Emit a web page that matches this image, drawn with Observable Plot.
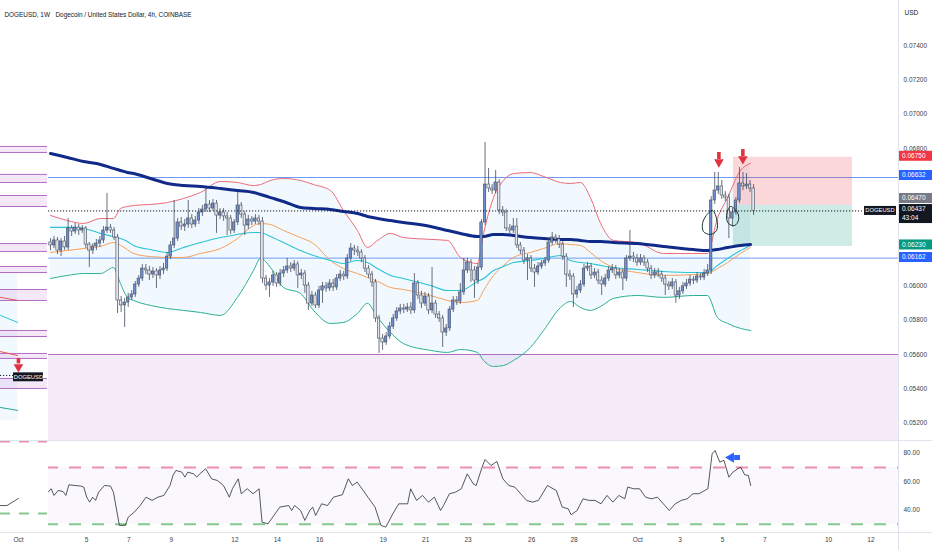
<!DOCTYPE html>
<html><head><meta charset="utf-8">
<script src="https://cdn.jsdelivr.net/npm/d3@7"></script>
<script src="https://cdn.jsdelivr.net/npm/@observablehq/plot@0.6"></script>
<style>
html,body{margin:0;padding:0;background:#fff;overflow:hidden}
#wrap{position:relative;width:932px;height:550px;background:#fff}
#wrap svg{display:block}
.sep{position:absolute;background:#e0e3eb}
</style></head><body><div id="wrap"></div>
<script>
// ================= DATA =================
// time axis in days (day 1..30 = first month, 31.. = "Oct" 1..)
const candleStartDay = 3.30;
const candleStepDays = 1 / 6;           // 4h candles
const firstOpen = 0.06253;
const closes = [
0.06236,0.06265,0.06206,0.06259,0.06224,0.06335,0.06317,0.06340,0.06323,0.06335,
0.06241,0.06206,0.06230,0.06247,0.06265,0.06323,0.06340,0.06323,0.06282,0.05915,
0.05886,0.05903,0.05932,0.05950,0.06008,0.06043,0.06101,0.06090,0.06066,0.06084,
0.06061,0.06090,0.06101,0.06171,0.06236,0.06276,0.06370,0.06346,0.06358,0.06393,
0.06358,0.06381,0.06428,0.06445,0.06474,0.06451,0.06480,0.06410,0.06428,0.06405,
0.06393,0.06323,0.06370,0.06469,0.06416,0.06352,0.06387,0.06375,0.06393,0.06375,
0.06043,0.06002,0.06020,0.06061,0.06014,0.06072,0.06090,0.06113,0.06101,0.06125,
0.06061,0.06072,0.06002,0.05897,0.05944,0.05886,0.05973,0.05997,0.05985,0.06014,
0.05991,0.06043,0.06066,0.06055,0.06160,0.06218,0.06206,0.06195,0.06160,0.06101,
0.06066,0.06020,0.05810,0.05693,0.05670,0.05705,0.05763,0.05810,0.05851,0.05868,
0.05862,0.05874,0.05857,0.06014,0.05944,0.05897,0.05938,0.05857,0.05897,0.05833,
0.05810,0.05728,0.05752,0.05862,0.05915,0.05909,0.05962,0.06090,0.06136,0.06090,
0.06031,0.06107,0.06370,0.06591,0.06568,0.06556,0.06603,0.06440,0.06428,0.06335,
0.06323,0.06346,0.06236,0.06206,0.06148,0.06160,0.06101,0.06078,0.06113,0.06131,
0.06148,0.06253,0.06282,0.06271,0.06241,0.06171,0.06066,0.06055,0.05950,0.05973,
0.06008,0.06101,0.06113,0.06061,0.06078,0.06031,0.06008,0.06043,0.06090,0.06101,
0.06061,0.06078,0.06043,0.06160,0.06171,0.06160,0.06136,0.06160,0.06136,0.06101,
0.06061,0.06078,0.06066,0.06043,0.06008,0.05997,0.06020,0.05944,0.05968,0.05997,
0.06014,0.06037,0.06031,0.06055,0.06049,0.06072,0.06090,0.06498,0.06556,0.06580,
0.06527,0.06515,0.06393,0.06428,0.06498,0.06597,0.06580,0.06591,0.06568,0.06437];
const highs = [
0.06276,0.06288,0.06282,0.06276,0.06288,0.06393,0.06352,0.06364,0.06358,0.06352,
0.06346,0.06253,0.06247,0.06271,0.06288,0.06346,0.06539,0.06358,0.06341,0.06300,
0.05938,0.05927,0.05956,0.05973,0.06026,0.06061,0.06125,0.06125,0.06113,0.06107,
0.06101,0.06113,0.06131,0.06195,0.06259,0.06498,0.06393,0.06399,0.06387,0.06498,
0.06416,0.06405,0.06451,0.06469,0.06568,0.06498,0.06504,0.06498,0.06451,0.06451,
0.06428,0.06411,0.06387,0.06545,0.06486,0.06434,0.06411,0.06405,0.06416,0.06411,
0.06399,0.06061,0.06043,0.06084,0.06078,0.06096,0.06113,0.06160,0.06136,0.06148,
0.06142,0.06096,0.06090,0.06020,0.05968,0.05962,0.05997,0.06020,0.06020,0.06037,
0.06037,0.06066,0.06090,0.06084,0.06183,0.06247,0.06236,0.06230,0.06212,0.06177,
0.06119,0.06084,0.06037,0.05828,0.05717,0.05728,0.05787,0.05833,0.05874,0.05892,
0.05892,0.05898,0.05903,0.06072,0.06031,0.05968,0.05962,0.05956,0.06107,0.05915,
0.05851,0.05828,0.05775,0.05880,0.05938,0.05938,0.06014,0.06160,0.06160,0.06154,
0.06113,0.06131,0.06387,0.06836,0.06685,0.06591,0.06673,0.06620,0.06463,0.06446,
0.06358,0.06393,0.06393,0.06253,0.06224,0.06183,0.06177,0.06125,0.06136,0.06148,
0.06166,0.06276,0.06311,0.06300,0.06294,0.06259,0.06189,0.06090,0.06072,0.05997,
0.06031,0.06125,0.06136,0.06131,0.06101,0.06096,0.06055,0.06066,0.06113,0.06125,
0.06119,0.06101,0.06096,0.06177,0.06323,0.06195,0.06183,0.06183,0.06177,0.06154,
0.06119,0.06101,0.06101,0.06084,0.06061,0.06026,0.06043,0.06037,0.05991,0.06020,
0.06037,0.06061,0.06055,0.06078,0.06072,0.06096,0.06125,0.06521,0.06661,0.06661,
0.06615,0.06550,0.06533,0.06451,0.06515,0.06690,0.06661,0.06655,0.06615,0.06591];
const lows = [
0.06206,0.06218,0.06183,0.06171,0.06206,0.06206,0.06288,0.06300,0.06294,0.06306,
0.06218,0.06107,0.06183,0.06206,0.06224,0.06247,0.06306,0.06306,0.06265,0.05839,
0.05845,0.05757,0.05874,0.05915,0.05933,0.05991,0.06026,0.06066,0.06031,0.06043,
0.05985,0.06037,0.06066,0.06084,0.06154,0.06218,0.06259,0.06323,0.06317,0.06335,
0.06335,0.06341,0.06358,0.06405,0.06428,0.06428,0.06434,0.06306,0.06387,0.06376,
0.06294,0.06300,0.06306,0.06352,0.06393,0.06294,0.06329,0.06352,0.06358,0.06352,
0.06014,0.05973,0.05933,0.05997,0.05991,0.05997,0.06049,0.06072,0.06078,0.06084,
0.05985,0.06037,0.05956,0.05857,0.05880,0.05868,0.05868,0.05898,0.05962,0.05968,
0.05968,0.05973,0.06026,0.06031,0.06037,0.06142,0.06177,0.06171,0.06136,0.06078,
0.06043,0.05991,0.05787,0.05606,0.05624,0.05653,0.05688,0.05746,0.05793,0.05833,
0.05839,0.05845,0.05833,0.05839,0.05921,0.05868,0.05880,0.05833,0.05839,0.05810,
0.05787,0.05641,0.05705,0.05734,0.05845,0.05886,0.05892,0.05944,0.06072,0.06020,
0.05927,0.06008,0.06090,0.06352,0.06545,0.06533,0.06539,0.06416,0.06405,0.06317,
0.06300,0.06306,0.06218,0.06183,0.06125,0.06031,0.06078,0.05991,0.06061,0.06096,
0.06113,0.06131,0.06236,0.06247,0.06218,0.06148,0.05991,0.06031,0.05874,0.05927,
0.05956,0.05991,0.06084,0.06037,0.06043,0.06008,0.05944,0.05991,0.06026,0.06072,
0.06037,0.06043,0.05973,0.06026,0.06142,0.06136,0.06113,0.06119,0.06113,0.06078,
0.06037,0.06043,0.06049,0.06020,0.05944,0.05973,0.05979,0.05898,0.05921,0.05950,
0.05979,0.05997,0.06008,0.06014,0.06031,0.06031,0.06055,0.06066,0.06475,0.06533,
0.06504,0.06492,0.06276,0.06341,0.06411,0.06480,0.06556,0.06562,0.06545,0.06411];

// indicator readings (Bollinger bands, orange MA, 200 MA) at sampled days
const bandDays = [3.30,4.10,4.86,5.66,6.27,6.60,6.93,7.22,8.02,8.82,9.58,10.38,11.32,12.12,12.88,13.21,13.68,14.29,15.09,15.71,16.51,17.12,17.78,18.25,18.73,19.34,19.95,21.23,22.03,22.64,23.44,23.73,24.20,24.67,25.14,25.94,26.56,27.36,27.83,28.30,28.77,29.25,29.86,30.99,32.22,33.63,34.29,34.76,35.24,35.85,36.32];
const bbUpper = [0.06411,0.06381,0.06364,0.06393,0.06393,0.06451,0.06463,0.06469,0.06475,0.06486,0.06510,0.06545,0.06609,0.06603,0.06585,0.06591,0.06615,0.06626,0.06615,0.06591,0.06556,0.06440,0.06323,0.06224,0.06265,0.06306,0.06282,0.06271,0.06265,0.06166,0.06131,0.06306,0.06515,0.06615,0.06655,0.06661,0.06638,0.06603,0.06597,0.06603,0.06515,0.06364,0.06265,0.06253,0.06189,0.06189,0.06189,0.06393,0.06515,0.06673,0.06714];
const bbLower = [0.06043,0.06061,0.06072,0.06072,0.06107,0.06014,0.05933,0.05915,0.05886,0.05868,0.05857,0.05845,0.05828,0.05933,0.06090,0.06160,0.06107,0.05991,0.05956,0.05857,0.05781,0.05787,0.05839,0.05898,0.05816,0.05728,0.05664,0.05624,0.05612,0.05629,0.05612,0.05565,0.05530,0.05536,0.05565,0.05641,0.05740,0.05874,0.05909,0.05874,0.05857,0.05880,0.05927,0.05944,0.05933,0.05944,0.05944,0.05816,0.05781,0.05752,0.05740];
const bbBasis = [0.06341,0.06341,0.06335,0.06306,0.06288,0.06276,0.06259,0.06236,0.06212,0.06195,0.06224,0.06253,0.06282,0.06300,0.06311,0.06311,0.06288,0.06253,0.06206,0.06177,0.06148,0.06131,0.06148,0.06136,0.06101,0.06061,0.06043,0.06002,0.05973,0.05973,0.06026,0.06043,0.06090,0.06113,0.06136,0.06148,0.06160,0.06177,0.06148,0.06136,0.06131,0.06119,0.06107,0.06096,0.06084,0.06078,0.06078,0.06119,0.06160,0.06206,0.06236];
const maOrange = [0.06195,0.06206,0.06218,0.06230,0.06253,0.06236,0.06212,0.06189,0.06171,0.06166,0.06166,0.06189,0.06218,0.06276,0.06352,0.06364,0.06358,0.06323,0.06282,0.06247,0.06148,0.06101,0.06072,0.06049,0.06026,0.05991,0.05979,0.05944,0.05915,0.05903,0.05915,0.05973,0.06061,0.06119,0.06166,0.06195,0.06218,0.06247,0.06241,0.06236,0.06195,0.06148,0.06107,0.06078,0.06061,0.06066,0.06072,0.06101,0.06136,0.06189,0.06224];
const ma200 = [0.06772,0.06749,0.06725,0.06708,0.06685,0.06673,0.06661,0.06655,0.06626,0.06597,0.06585,0.06580,0.06568,0.06556,0.06545,0.06533,0.06515,0.06492,0.06457,0.06451,0.06446,0.06434,0.06422,0.06405,0.06393,0.06381,0.06370,0.06346,0.06323,0.06306,0.06288,0.06288,0.06300,0.06300,0.06294,0.06282,0.06276,0.06271,0.06271,0.06265,0.06259,0.06259,0.06253,0.06247,0.06230,0.06212,0.06206,0.06212,0.06224,0.06236,0.06241];

// RSI readings
const rsiDays = [3.19,3.33,3.47,3.66,3.89,4.03,4.17,4.45,4.73,4.87,5.01,5.15,5.29,5.43,5.57,5.85,6.13,6.27,6.55,6.83,6.97,7.25,7.53,7.81,8.09,8.37,8.65,8.94,9.08,9.22,9.50,9.64,9.78,10.06,10.20,10.34,10.62,10.90,11.18,11.46,11.74,11.88,12.16,12.30,12.58,12.86,13.14,13.28,13.56,13.84,14.12,14.54,14.68,14.82,15.10,15.30,15.53,15.67,15.81,16.09,16.37,16.65,17.07,17.35,17.54,17.77,18.05,18.33,18.61,18.89,19.12,19.45,19.73,20.15,20.29,20.57,20.85,21.13,21.41,21.70,21.84,22.12,22.40,22.68,22.96,23.24,23.38,23.66,23.80,24.08,24.36,24.64,24.92,25.20,25.48,25.76,26.04,26.32,26.74,27.16,27.44,27.72,27.86,28.14,28.42,28.71,28.99,29.27,29.55,29.83,30.11,30.39,30.53,30.81,31.09,31.37,31.65,31.93,32.21,32.49,32.77,33.05,33.33,33.61,33.89,34.17,34.31,34.51,34.65,34.87,35.07,35.30,35.49,35.72,35.86,36.05,36.22,36.33];
const rsiValues = [52.6,55.0,50.3,53.8,53.1,50.3,57.8,57.3,56.9,56.2,49.1,45.6,49.1,46.8,52.6,57.3,56.9,52.6,29.2,29.2,35.0,38.5,43.2,49.1,46.8,49.1,50.3,57.3,64.4,67.9,66.7,63.2,66.7,65.5,63.2,65.5,69.1,62.0,60.8,57.3,49.1,55.0,62.0,51.5,55.0,51.5,55.0,31.5,30.3,36.2,42.1,43.2,39.7,43.2,39.7,32.7,39.7,42.1,36.2,44.4,43.2,49.1,50.8,62.0,57.3,59.7,53.8,47.9,42.1,29.2,28.0,37.4,44.4,44.4,55.0,46.8,50.3,45.6,49.1,39.7,43.2,51.5,52.6,55.0,65.5,58.5,57.3,70.2,75.6,71.4,74.2,62.0,57.3,56.2,51.5,46.8,45.6,46.8,57.3,53.8,42.1,40.9,36.7,39.7,47.9,46.8,46.8,44.4,50.3,45.6,50.3,47.9,56.2,55.0,55.0,49.1,47.9,49.1,44.4,39.7,44.4,46.8,47.9,51.5,51.5,53.8,55.0,79.6,82.0,73.8,75.0,63.2,66.7,69.1,70.2,64.8,64.4,57.3];

// ticks
const priceTicks = [0.074,0.072,0.070,0.068,0.060,0.058,0.056,0.054,0.052];
const rsiTicks = [80,60,40];
const dayTicks = [1.79,5,7,9,12,14,16,19,21,23,26,28,31,33,35,37,40,42];
const dayTickLabels = ["Oct","5","7","9","12","14","16","19","21","23","26","28","Oct","3","5","7","10","12"];

// levels and annotations (values)
const rayLevels = [0.06632, 0.06162];
const zoneTop = 0.05600;
const lastPrice = 0.06437;
const position = {entry: 0.06470, stop: 0.06750, target: 0.06230};
const priceTags = [
  {price: 0.06750, color: "#f23645"},
  {price: 0.06632, color: "#2962ff"},
  {price: 0.06470, color: "#787b86"},
  {price: 0.06437, color: "#131722", countdown: "43:04"},
  {price: 0.06230, color: "#089981"},
  {price: 0.06162, color: "#2962ff"}
];
const rsiOB = 70, rsiOS = 30;

// ================= LAYOUT / ANNOTATION GEOMETRY (days / price) =================
const X_DOMAIN = [0.9434, 43.302];
const Y_DOMAIN = [0.050985, 0.076641];
const RSI_DOMAIN = [24.2, 89.0];
const insetEnd = 3.21, insetLineEnd = 3.16;
const posDays = [35.52, 41.13];
const tagDay = 41.605;
const tagNudge = [-1, -2, -6.8, -1.4, -1.5, -0.6];
const arrows = [
  {t: 34.83, top: 0.06778, bot: 0.06737, head: 0.06722},
  {t: 35.96, top: 0.06795, bot: 0.06754, head: 0.06740},
  {t: 1.79, top: 0.05577, bot: 0.05545, head: 0.05527}
];
const loop1 = [{t:34.53,p:0.06440},{t:34.74,p:0.06381},{t:34.72,p:0.06323},{t:34.43,p:0.06300},{t:34.10,p:0.06317},{t:34.06,p:0.06364},{t:34.24,p:0.06411}];
const loop2 = [{t:35.38,p:0.06463},{t:35.71,p:0.06428},{t:35.75,p:0.06381},{t:35.57,p:0.06352},{t:35.28,p:0.06364},{t:35.19,p:0.06411}];
const insetBands = [[0.06813,0.06778],[0.06650,0.06603],[0.06527,0.06463],[0.06247,0.06201],[0.06113,0.06078],[0.05979,0.05915],[0.05740,0.05705],[0.05606,0.05577],[0.05460,0.05402]];
const insetTrends = [
  {k:"#ef5350", t:0.94, p:0.05933}, {k:"#ef5350", t:1.75, p:0.05915},
  {k:"#26c6da", t:0.94, p:0.05828}, {k:"#26c6da", t:1.75, p:0.05787},
  {k:"#ef5350", t:0.94, p:0.05617}, {k:"#ef5350", t:1.75, p:0.05594},
  {k:"#26a69a", t:0.94, p:0.05291}, {k:"#26a69a", t:1.75, p:0.05274}
];
const rsiArrow = {t1: 35.57, t2: 35.85, head: 35.40, v: 77};

// ================= BUILD =================
const FONT = "'Liberation Sans', Arial, Helvetica, sans-serif";
const candles = closes.map((c, i) => ({
  t: candleStartDay + i * candleStepDays,
  open: i === 0 ? firstOpen : closes[i - 1],
  close: c, high: highs[i], low: lows[i]
}));
const bands = bandDays.map((t, i) => ({t, upper: bbUpper[i], lower: bbLower[i], basis: bbBasis[i], orange: maOrange[i], ma: ma200[i]}));
const rsi = rsiDays.map((t, i) => ({t, v: rsiValues[i]}));
const xTicks = dayTicks.map((t, i) => ({t, label: dayTickLabels[i]}));
const half = candleStepDays / 2;
const UP = "#6d8fd2", DOWN = "#e4e6ec", EDGE = "#434a5c";

function axisTags(index, scales, values, dims) {
  const x0 = dims.width - dims.marginRight;
  const g = d3.create("svg:g").attr("font-family", FONT).attr("font-size", 6.5).attr("text-anchor", "start");
  priceTags.forEach((tag, i) => {
    const top = scales.y(tag.price) + tagNudge[i] - 5;
    const h = tag.countdown ? 19 : 10;
    g.append("rect").attr("x", x0).attr("y", top).attr("width", dims.width - x0).attr("height", h).attr("fill", tag.color);
    g.append("text").attr("x", x0 + 4).attr("y", top + 5).attr("dy", "0.35em").attr("text-anchor", "start").attr("fill", "#fff").text(tag.price.toFixed(5));
    if (tag.countdown) g.append("text").attr("x", x0 + 4).attr("y", top + 14).attr("dy", "0.35em").attr("text-anchor", "start").attr("fill", "#fff").text(tag.countdown);
  });
  const ly = scales.y(lastPrice);
  const lx = scales.x(tagDay);
  g.append("rect").attr("x", lx + 2).attr("y", ly - 4.5).attr("width", 32).attr("height", 9).attr("fill", "#131722");
  g.append("text").attr("x", lx + 18).attr("y", ly).attr("dy", "0.35em").attr("text-anchor", "middle").attr("fill", "#fff").attr("font-size", 5.8).text("DOGEUSD");
  return g.node();
}

const pricePlot = Plot.plot({
  width: 932, height: 440,
  marginLeft: 0, marginRight: 34, marginTop: 0, marginBottom: 0,
  x: {domain: X_DOMAIN, axis: null},
  y: {domain: Y_DOMAIN, axis: null},
  style: {fontFamily: FONT, fontSize: "6.5px", background: "#fff", overflow: "visible"},
  marks: [
    // demand zone
    Plot.rect([zoneTop], {y1: Y_DOMAIN[0], y2: d => d, fill: "#9c27b0", fillOpacity: 0.085}),
    Plot.ruleY([zoneTop], {stroke: "#b36bc4", strokeWidth: 1}),
    // band fill
    Plot.areaY(bands, {x: "t", y1: "lower", y2: "upper", fill: "#2196f3", fillOpacity: 0.06, curve: "monotone-x"}),
    // rays
    Plot.ruleY(rayLevels, {stroke: "#6f9cf0", strokeWidth: 1}),
    // position tool
    Plot.rect([position], {x1: posDays[0], x2: posDays[1], y1: "entry", y2: "stop", fill: "#f23645", fillOpacity: 0.2}),
    Plot.rect([position], {x1: posDays[0], x2: posDays[1], y1: "target", y2: "entry", fill: "#089981", fillOpacity: 0.2}),
    // indicators
    Plot.line(bands, {x: "t", y: "upper", stroke: "#ef6b78", strokeWidth: 1, curve: "monotone-x"}),
    Plot.line(bands, {x: "t", y: "lower", stroke: "#2aae93", strokeWidth: 1, curve: "monotone-x"}),
    Plot.line(bands, {x: "t", y: "orange", stroke: "#f5a05a", strokeWidth: 1, curve: "monotone-x"}),
    Plot.line(bands, {x: "t", y: "basis", stroke: "#2cc4d6", strokeWidth: 1.1, curve: "monotone-x"}),
    Plot.line(bands, {x: "t", y: "ma", stroke: "#102a8a", strokeWidth: 3, curve: "monotone-x"}),
    // candles
    Plot.ruleX(candles, {x: "t", y1: "low", y2: "high", stroke: EDGE, strokeWidth: 0.8}),
    Plot.rect(candles.filter(d => d.close >= d.open), {x1: d => d.t - half, x2: d => d.t + half, y1: "open", y2: "close", insetLeft: 0.55, insetRight: 0.55, fill: UP, stroke: EDGE, strokeWidth: 0.6}),
    Plot.rect(candles.filter(d => d.close < d.open), {x1: d => d.t - half, x2: d => d.t + half, y1: "open", y2: "close", insetLeft: 0.55, insetRight: 0.55, fill: DOWN, stroke: EDGE, strokeWidth: 0.6}),
    // last price dotted
    Plot.ruleY([lastPrice], {x1: X_DOMAIN[0], x2: tagDay, stroke: "#131722", strokeWidth: 1, strokeDasharray: "1.2,1.8"}),
    // hand-drawn loops
    Plot.line(loop1, {x: "t", y: "p", curve: "catmull-rom-closed", stroke: "#18342b", strokeWidth: 1}),
    Plot.line(loop2, {x: "t", y: "p", curve: "catmull-rom-closed", stroke: "#18342b", strokeWidth: 1}),
    // inset (left mini chart)
    Plot.rect([{}], {x1: X_DOMAIN[0], x2: insetEnd, fill: "#fff"}),
    Plot.rect([{}], {x1: X_DOMAIN[0], x2: 1.75, y1: 0.05215, y2: 0.06072, fill: "#2196f3", fillOpacity: 0.06}),
    Plot.rect(insetBands, {x1: X_DOMAIN[0], x2: insetLineEnd, y1: d => d[0], y2: d => d[1], fill: "#c77dd6", fillOpacity: 0.18}),
    Plot.ruleY(insetBands.flat(), {x1: X_DOMAIN[0], x2: insetLineEnd, stroke: "#b36bc4", strokeWidth: 1}),
    Plot.line(insetTrends, {x: "t", y: "p", z: (d, i) => Math.floor(i / 2), stroke: d => d.k, strokeWidth: 1}),
    Plot.ruleY([0.05478], {x1: X_DOMAIN[0], x2: 1.557, stroke: "#131722", strokeDasharray: "1.2,1.8"}),
    Plot.rect([{}], {x1: 1.557, x2: 2.97, y1: 0.05441, y2: 0.05493, fill: "#131722"}),
    Plot.text(["DOGEUSD"], {x: 2.26, y: 0.05467, fill: "#fff", fontSize: 5.8}),
    // arrows
    Plot.ruleX(arrows, {x: "t", y1: "top", y2: "bot", stroke: "#e0323f", strokeWidth: 3.6}),
    Plot.dot(arrows, {x: "t", y: "head", symbol: "triangle", r: 3.6, fill: "#e0323f", rotate: 180}),
    // header & axis
    Plot.text(["DOGEUSD, 1W"], {frameAnchor: "top-left", dx: 4, dy: 11.5, textAnchor: "start", fill: "#131722", fontSize: 6.4}),
    Plot.text(["Dogecoin / United States Dollar, 4h, COINBASE"], {frameAnchor: "top-left", dx: 55, dy: 11.5, textAnchor: "start", fill: "#131722", fontSize: 6.4}),
    Plot.text(["USD"], {frameAnchor: "top-right", dx: 6, dy: 10, textAnchor: "start", fill: "#131722", fontSize: 6.5}),
    Plot.text(priceTicks, {y: d => d, text: d => d.toFixed(5), frameAnchor: "right", dx: 5, textAnchor: "start", fill: "#3a3e4a", fontSize: 6.5}),
    axisTags
  ]
});

const rsiPlot = Plot.plot({
  width: 932, height: 110,
  marginLeft: 0, marginRight: 34, marginTop: 0, marginBottom: 18,
  x: {domain: X_DOMAIN, axis: null},
  y: {domain: RSI_DOMAIN, axis: null},
  style: {fontFamily: FONT, fontSize: "6.5px", background: "#fff", overflow: "visible"},
  marks: [
    Plot.rect([{}], {y1: rsiOS, y2: rsiOB, fill: "#7e57c2", fillOpacity: 0.04}),
    Plot.ruleY([rsiOB], {stroke: "#ec8fae", strokeWidth: 2, strokeDasharray: "12,11"}),
    Plot.ruleY([rsiOS], {stroke: "#86c98f", strokeWidth: 2, strokeDasharray: "12,11"}),
    Plot.line(rsi, {x: "t", y: "v", stroke: "#2a2e39", strokeWidth: 0.8}),
    Plot.ruleY([rsiArrow], {x1: "t1", x2: "t2", y: "v", stroke: "#2962ff", strokeWidth: 5}),
    Plot.dot([rsiArrow], {x: "head", y: "v", symbol: "triangle", r: 3.8, fill: "#2962ff", rotate: -90}),
    // inset
    Plot.rect([{}], {x1: X_DOMAIN[0], x2: insetEnd, fill: "#fff"}),
    Plot.ruleY([88.3], {x1: X_DOMAIN[0], x2: insetLineEnd, stroke: "#ec8fae", strokeWidth: 2, strokeDasharray: "10,9"}),
    Plot.ruleY([37.6], {x1: X_DOMAIN[0], x2: insetLineEnd, stroke: "#86c98f", strokeWidth: 2, strokeDasharray: "10,9"}),
    Plot.line([{t: 0.94, v: 43.2}, {t: 1.25, v: 43.2}, {t: 1.79, v: 48.2}], {x: "t", y: "v", stroke: "#2a2e39", strokeWidth: 0.8}),
    // axes
    Plot.text(rsiTicks, {y: d => d, text: d => d.toFixed(2), frameAnchor: "right", dx: 5, textAnchor: "start", fill: "#3a3e4a", fontSize: 6.5}),
    Plot.text(xTicks, {x: "t", text: "label", frameAnchor: "bottom", dy: 9, fill: "#3a3e4a", fontSize: 6.5})
  ]
});

const wrap = document.getElementById("wrap");
wrap.appendChild(pricePlot);
wrap.appendChild(rsiPlot);
for (const [l, t, w, h] of [[0, 440, 932, 1], [0, 532, 932, 1], [898, 0, 1, 550]]) {
  const d = document.createElement("div");
  d.className = "sep";
  Object.assign(d.style, {left: l + "px", top: t + "px", width: w + "px", height: h + "px"});
  wrap.appendChild(d);
}
</script></body></html>
